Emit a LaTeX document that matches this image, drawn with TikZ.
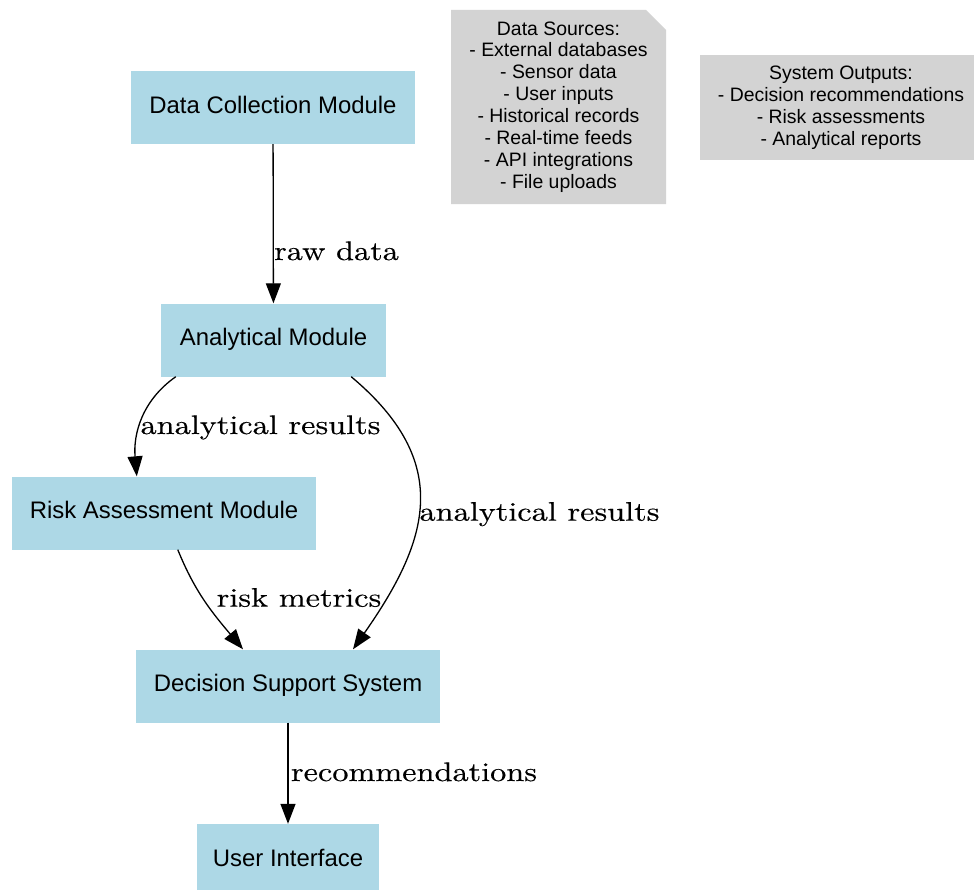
\documentclass[tikz,border=0pt]{standalone}
\usepackage{fontspec}
\setmainfont{Liberation Sans}
\newfontfamily\edgefont{lmroman10-regular}[Extension=.otf, FakeStretch=1.2, FakeBold=0.3]
\usetikzlibrary{arrows.meta, shapes.misc}
\definecolor{boxblue}{HTML}{ADD8E6}
\definecolor{notegray}{HTML}{D3D3D3}

\begin{document}
\begin{tikzpicture}[x=1bp, y=1bp,
  module/.style={fill=boxblue, minimum height=73bp, inner sep=0pt,
    text height=17bp, text depth=6bp, font=\fontsize{24}{29}\selectfont},
  note/.style={fill=notegray, inner sep=0pt, align=center,
    font=\fontsize{19.5}{22}\selectfont},
  flow/.style={-{Triangle[length=20bp, width=15bp]}, line width=1.3bp},
  elabel/.style={anchor=base, inner sep=0pt,
    font=\edgefont\fontsize{27}{31}\selectfont}]
  \useasboundingbox (0,0) rectangle (974,-890);
  % ---- modules ----
  \node[module, minimum width=284bp] (dcm) at (273,-107.5) {Data Collection Module};
  \node[module, minimum width=225bp] (am) at (273.5,-340) {Analytical Module};
  \node[module, minimum width=304bp] (ra) at (164,-513) {Risk Assessment Module};
  \node[module, minimum width=304bp] (dss) at (288,-686) {Decision Support System};
  \node[module, minimum width=182bp] (ui) at (288,-860.5) {User Interface};
  % ---- notes ----
  \node[note, chamfered rectangle, chamfered rectangle corners=north east,
    chamfered rectangle xsep=10bp, chamfered rectangle ysep=10bp,
    minimum width=215bp, minimum height=194bp] (srcs) at (558.5,-107)
    {Data Sources:\\- External databases\\- Sensor data\\- User inputs\\
     - Historical records\\- Real-time feeds\\- API integrations\\- File uploads};
  \node[note, minimum width=282bp, minimum height=105bp] (outs) at (841,-107.5)
    {System Outputs:\\- Decision recommendations\\- Risk assessments\\- Analytical reports};
  % ---- flows ----
  \draw[flow] (dcm) -- (am);
  \draw[flow] ([xshift=15bp]am.south west) to[out=-145, in=95] ([xshift=125bp]ra.north west);
  \draw[flow] ([xshift=-35bp]am.south east) to[out=-40, in=55, looseness=1.25] ([xshift=65bp]dss.north);
  \draw[flow] ([xshift=166bp]ra.south west) to[out=-68, in=130] ([xshift=-45bp]dss.north);
  \draw[flow] (dss) -- (ui);
  % ---- edge labels ----
  \node[elabel] (lraw) at (336.5,-260) {raw data};
  \node[elabel] (lres1) at (260.5,-434) {analytical results};
  \node[elabel] (lres2) at (539.5,-520.7) {analytical results};
  \node[elabel] (lrisk) at (299,-606.7) {risk metrics};
  \node[elabel] (lrec) at (414,-781) {recommendations};
\end{tikzpicture}
\end{document}
